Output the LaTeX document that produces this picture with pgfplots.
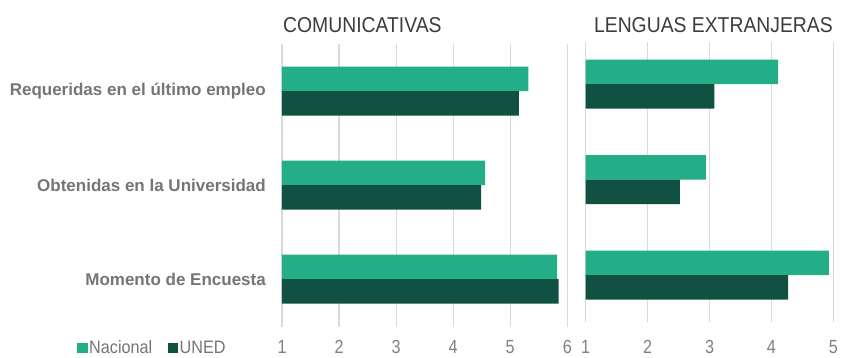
\documentclass[border=0pt]{standalone}
\usepackage{pgfplots}
\pgfplotsset{compat=1.18}
\usepackage{fontspec}
\setmainfont{Liberation Sans}
\newfontfamily\titlefont[FakeStretch=0.9]{Liberation Sans}
\newfontfamily\tickfont[FakeStretch=0.85]{Liberation Sans}
\newfontfamily\legfont[FakeStretch=0.9]{Liberation Sans}
\definecolor{nac}{RGB}{35,174,136}
\definecolor{uned}{RGB}{17,81,65}
\definecolor{gridc}{RGB}{218,218,218}
\definecolor{lab}{RGB}{117,117,117}
\definecolor{tickc}{RGB}{128,128,128}
\definecolor{ttl}{RGB}{60,60,60}
\pgfplotsset{
 common/.style={
  scale only axis, xbar, bar width=24.5pt,
  axis line style={draw=none}, major tick length=0pt,
  xmajorgrids, grid style={gridc, line width=1.2pt},
  ytick={0,1,2},
  x tick label style={font=\tickfont\fontsize{19}{22}\selectfont, text=tickc, inner sep=0pt, anchor=north},
 }
}
\begin{document}
\begin{tikzpicture}[x=1pt,y=1pt]
\path[use as bounding box] (0,0) rectangle (841,357);
\begin{axis}[common, at={(282pt,30.3pt)}, anchor=south west, width=285.3pt, height=282.4pt,
 xmin=1, xmax=6, xtick={1,...,6}, xticklabels={1,2,3,4,5,6}, ymin=-0.507, ymax=2.497,
 yticklabels={Momento de Encuesta, Obtenidas en la Universidad, Requeridas en el último empleo},
 y tick label style={font=\bfseries\fontsize{17}{20}\selectfont, text=lab, inner sep=0pt, anchor=east, xshift=-16pt},
 x tick label style={yshift=-13.5pt},
 legend style={draw=none, fill=none, at={(-0.7185,-0.075)}, anchor=west, legend columns=2,
   font=\legfont\fontsize{18}{20}\selectfont, text=lab,
   /tikz/every even column/.append style={column sep=14pt}, inner sep=0pt, nodes={inner sep=1.5pt}},
 legend image code/.code={\path[#1, draw=none] (0pt,-5.5pt) rectangle (10.5pt,5pt);}
]
\addplot[fill=nac, draw=none, bar shift=12.25pt] coordinates {(5.82,0) (4.56,1) (5.32,2)};
\addplot[fill=uned, draw=none, bar shift=-12.25pt] coordinates {(5.85,0) (4.49,1) (5.15,2)};
\legend{Nacional, UNED}
\end{axis}
\begin{axis}[common, at={(585.7pt,35pt)}, anchor=south west, width=247.6pt, height=280pt,
 xmin=1, xmax=5, xtick={1,...,5}, xticklabels={1,2,3,4,5}, ymin=-0.492, ymax=2.44,
 yticklabels={},
 x tick label style={yshift=-18.5pt},
]
\addplot[fill=nac, draw=none, bar shift=12.25pt] coordinates {(4.93,0) (2.94,1) (4.11,2)};
\addplot[fill=uned, draw=none, bar shift=-12.25pt] coordinates {(4.27,0) (2.52,1) (3.08,2)};
\end{axis}
\node[anchor=base west, font=\titlefont\fontsize{21.5}{24}\selectfont, text=ttl, inner sep=0pt] at (283,324) {COMUNICATIVAS};
\node[anchor=base east, font=\titlefont\fontsize{21.5}{24}\selectfont, text=ttl, inner sep=0pt] at (833,324) {LENGUAS EXTRANJERAS};
\end{tikzpicture}
\end{document}
